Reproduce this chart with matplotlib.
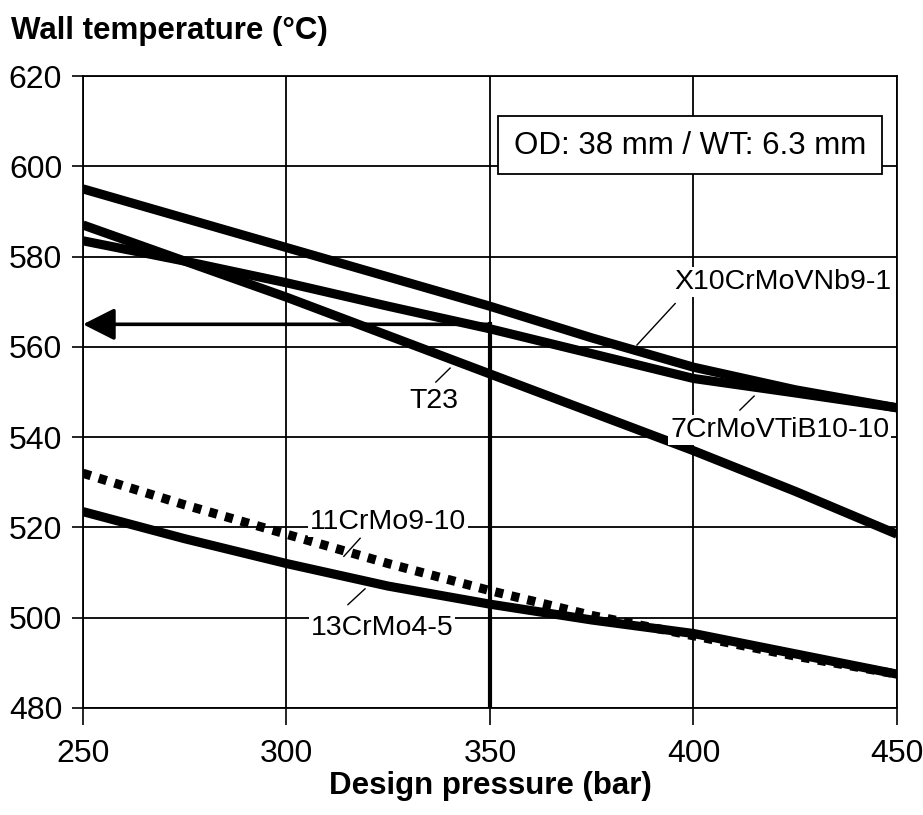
import matplotlib
matplotlib.use("Agg")
import matplotlib.pyplot as plt
from matplotlib.patches import Rectangle

plt.rcParams['font.family'] = ['Liberation Sans', 'DejaVu Sans']

# ---- data ----
pressure = [250, 275, 300, 325, 350, 375, 400, 425, 450]
x10crmovnb = [595, 588.5, 582, 575.5, 569, 562, 555.5, 550.5, 546.5]
crmovtib = [583.5, 579, 574.2, 569, 564, 558.5, 553, 549.8, 546.5]
t23 = [587, 579, 571, 562.5, 554, 545.5, 537, 528, 518.5]
crmo9_10 = [532, 525, 518.5, 512, 506, 500.5, 496, 491.5, 487.5]
crmo4_5 = [523.5, 517.5, 512, 507, 503, 499.5, 496.5, 492, 487.5]

design_p = 350
wall_t = 565

xticks = [250, 300, 350, 400, 450]
yticks = [480, 500, 520, 540, 560, 580, 600, 620]

fig = plt.figure(figsize=(9.23, 8.15), dpi=100)
ax = fig.add_axes([0.0899, 0.1313, 0.8819, 0.7754])
ax.set_xlim(250, 450)
ax.set_ylim(480, 620)
ax.set_xticks(xticks)
ax.set_yticks(yticks)
ax.tick_params(axis='x', length=12, width=1.2, direction='out', labelsize=23, pad=10)
ax.tick_params(axis='y', length=8, width=1.2, direction='out', labelsize=23, pad=7)
ax.grid(True, color='black', linewidth=1.3)
ax.set_axisbelow(True)
for s in ax.spines.values():
    s.set_linewidth(1.3)

lw = 6.6
ax.plot(pressure, x10crmovnb, color='black', lw=lw, solid_capstyle='butt', zorder=3)
ax.plot(pressure, crmovtib, color='black', lw=lw, solid_capstyle='butt', zorder=3)
ax.plot(pressure, t23, color='black', lw=lw, solid_capstyle='butt', zorder=3)
ax.plot(pressure, crmo4_5, color='black', lw=lw, solid_capstyle='butt', zorder=3)
ax.plot(pressure, crmo9_10, color='black', lw=lw, linestyle=(0, (0.9, 0.9)),
        dash_capstyle='butt', zorder=3)

# design point lines
ax.plot([design_p, design_p], [480, wall_t], color='black', lw=3, zorder=4)
ax.annotate('', xy=(250, wall_t), xytext=(design_p, wall_t),
            arrowprops=dict(arrowstyle='-|>,head_length=0.97,head_width=0.49',
                            mutation_scale=20, lw=2.6, color='black',
                            shrinkA=0, shrinkB=0), zorder=4)

# info box
ax.add_patch(Rectangle((352.0, 598.2), 94.3, 12.9, facecolor='white',
                       edgecolor='black', lw=1.3, zorder=5))
ax.text(399.2, 604.4, 'OD: 38 mm / WT: 6.3 mm', ha='center', va='center',
        fontsize=22.5, zorder=6)

# labels with leader lines
labels = [
    ('X10CrMoVNb9-1', 422.0, 574.4, (395.5, 569.6), (386.1, 560.4)),
    ('7CrMoVTiB10-10', 421.2, 541.6, (411.4, 546.0), (414.9, 549.1)),
    ('T23', 336.2, 548.0, (336.7, 552.2), (340.2, 555.3)),
    ('11CrMo9-10', 324.9, 521.3, (318.1, 517.6), (314.1, 513.6)),
    ('13CrMo4-5', 323.5, 497.8, (319.3, 506.4), (315.1, 502.9)),
]
for txt, tx, ty, p0, p1 in labels:
    ax.text(tx, ty, txt, ha='center', va='center', fontsize=20.5, zorder=6,
            bbox=dict(facecolor='white', edgecolor='none', pad=1.5))
    ax.plot([p0[0], p1[0]], [p0[1], p1[1]], color='black', lw=1.0, zorder=6)

fig.text(0.012, 0.962, 'Wall temperature (°C)', fontsize=22.5, fontweight='bold',
         ha='left', va='center')
ax.set_xlabel('Design pressure (bar)', fontsize=22.5, fontweight='bold', labelpad=2)

fig.savefig('out.png', dpi=100)
